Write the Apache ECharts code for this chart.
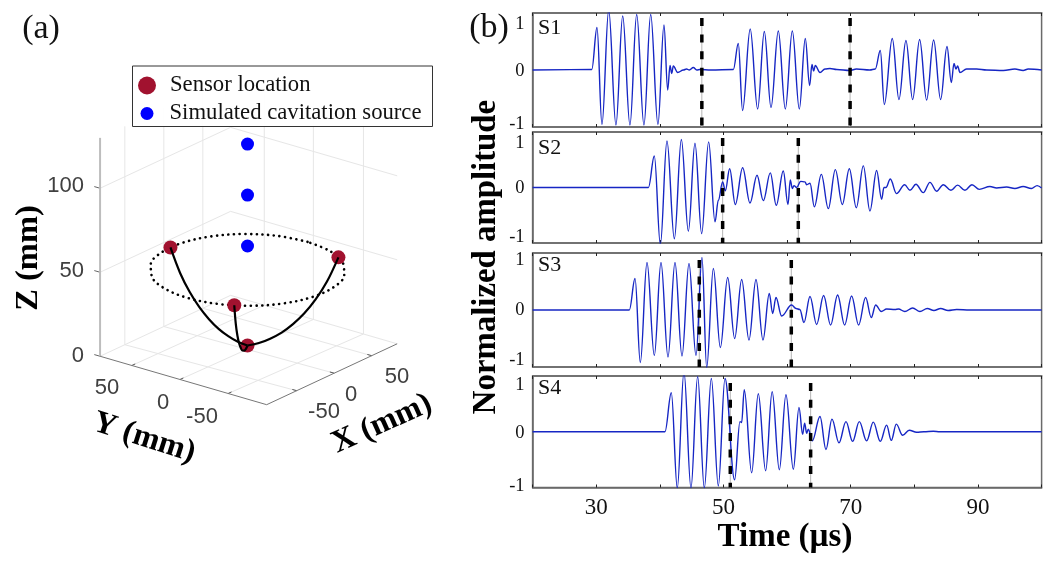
<!DOCTYPE html>
<html><head><meta charset="utf-8">
<style>html,body{margin:0;padding:0;background:#fff}#c{width:1050px;height:561px}</style>
<script src="https://cdn.jsdelivr.net/npm/echarts@6/dist/echarts.min.js"></script>
</head><body><div id="c"></div>
<script>
// ---------- panel (b): waveform turning points [time µs, normalized amplitude]
const S1 = [[20,0],[29.3,0.01],[30.12,0.85],[30.9,-1.09],[31.96,1.2],[33.1,-1.1],[34.16,1.08],[35.3,-1.1],[36.36,1.11],[37.5,-1.1],[38.56,1.11],[39.7,-1.09],[40.65,0.9],[41.23,-0.4],[41.6,0.09],[41.86,-0.07],[42.12,0.08],[42.8,-0.05],[43.7,0],[44.2,0.02],[44.63,0],[45.26,0.05],[45.8,0],[46.3,0.01],[48,0],[51.55,0.01],[52.33,0.53],[53,-0.81],[54.2,0.82],[55.37,-0.78],[56.42,0.77],[57.47,-0.75],[58.62,0.78],[59.72,-0.78],[60.82,0.78],[61.92,-0.78],[62.86,0.63],[63.54,-0.31],[63.91,0.11],[64.17,-0.02],[64.43,0.09],[65.17,-0.05],[65.95,0.02],[66.74,0.03],[67.8,0.01],[69.88,-0.01],[70.9,0.02],[73,0],[73.86,0.02],[74.65,0.39],[75.28,-0.69],[76.53,0.63],[77.58,-0.59],[78.68,0.59],[79.73,-0.59],[80.83,0.61],[81.93,-0.6],[83.03,0.6],[84.13,-0.59],[85.13,0.47],[85.81,-0.25],[86.23,0.13],[86.54,0.02],[86.8,0.08],[87.17,-0.05],[88.2,0.02],[89.8,0.02],[91.36,0],[94,-0.01],[95.8,0.02],[97.1,-0.01],[97.9,0.02],[100,0]];
const S2 = [[20,0],[38.2,0],[39.13,0.67],[40.08,-1.21],[41.12,0.99],[42.28,-1.09],[43.38,1.02],[44.48,-0.93],[45.52,0.94],[46.57,-0.98],[47.67,0.97],[48.67,-0.73],[49.19,-0.27],[49.87,0.12],[50.29,-0.07],[50.97,0.4],[51.86,-0.36],[53.01,0.42],[54.17,-0.33],[55.27,0.26],[56.26,-0.28],[57.36,0.31],[58.3,-0.38],[59.4,0.35],[60.14,-0.36],[60.5,0.16],[60.82,-0.02],[61.08,0.04],[61.5,0],[62.13,0.13],[62.81,0.12],[63.07,0.06],[63.6,0.09],[64.28,-0.41],[65.38,0.28],[66.48,-0.45],[67.58,0.38],[68.68,-0.36],[69.78,0.4],[70.88,-0.43],[71.98,0.46],[73.02,-0.5],[74.07,0.36],[74.86,-0.25],[75.22,0],[75.54,0],[76.22,0.18],[77.2,-0.13],[78.47,0.06],[79.31,-0.06],[80.25,0.07],[81.4,-0.11],[82.45,0.11],[83.5,-0.08],[84.55,0.06],[85.75,-0.06],[86.8,0.05],[87.95,-0.06],[89.05,0.06],[90.2,-0.04],[91.88,0.02],[92.93,-0.01],[94.5,0.01],[95.8,-0.02],[97.1,0.02],[98.4,-0.02],[99.3,0.04],[100,-0.01]];
const S3 = [[20,0],[35.2,0],[36.1,0.63],[36.93,-1.05],[37.98,0.95],[39.13,-0.91],[40.18,0.95],[41.28,-0.94],[42.38,0.95],[43.48,-0.92],[44.58,0.93],[45.68,-0.91],[46.62,1.05],[47.36,-1.15],[48.41,0.83],[49.51,-0.75],[50.66,0.65],[51.76,-0.57],[52.86,0.61],[54.01,-0.6],[55.11,0.61],[56.21,-0.6],[57.2,0.33],[57.73,-0.07],[58.25,0.25],[59.14,-0.12],[60.7,0.1],[61.4,0.03],[62,0.01],[62.65,-0.25],[63.6,0.27],[64.64,-0.29],[65.74,0.29],[66.84,-0.3],[67.94,0.3],[69.04,-0.3],[70.14,0.28],[71.24,-0.3],[72.34,0.25],[73.23,-0.15],[73.92,0.1],[74.8,-0.03],[75.64,0.02],[76.95,0.01],[77.5,0.02],[78.5,-0.03],[79.73,0.04],[80.88,-0.03],[82.03,0.03],[83.08,-0.01],[84.13,0.03],[85.3,-0.01],[86.65,0.01],[88.7,0],[100,0]];
const S4 = [[20,0],[40.8,0],[41.8,0.77],[42.74,-1.11],[43.79,1.18],[44.89,-1.11],[45.94,1.09],[46.99,-1.11],[48.09,1.05],[49.19,-1.07],[50.24,1.05],[51.75,-0.95],[52.59,0.2],[52.85,0.18],[53.27,0.83],[54.43,-0.81],[55.47,0.75],[56.63,-0.77],[57.65,0.79],[58.78,-0.75],[59.82,0.73],[60.98,-0.74],[61.87,0.48],[62.44,-0.05],[62.76,0.17],[63.07,-0.03],[63.33,0.05],[63.96,-0.18],[65.17,0.3],[66.11,-0.35],[67.05,0.25],[68.15,-0.22],[69.25,0.2],[70.3,-0.19],[71.35,0.2],[72.5,-0.18],[73.55,0.19],[74.65,-0.19],[75.64,0.13],[76.38,-0.17],[77.16,0.15],[78.16,-0.07],[79.2,0.03],[80.36,-0.01],[81.5,0],[82.98,0.01],[84,0],[100,0]];
const dashTimes = [[46.6,69.9],[49.87,61.76],[46.2,60.66],[51.07,63.7]];
const dashTops = [1.04,1.05,1.0,0.96];
const panelNames = ['S1','S2','S3','S4'];
const panelLimits = [1.14,1.18,1.14,1.1];
const panelTops = [13,132,253,376];
const panelHeights = [114,111,114,111.5];
const labelNudge = [[8,2],[6,2],[0,0],[8,2]];
const timeLabels = [30,50,70,90];
const ampLabels = [-1,0,1];

// ---------- panel (a): 3-D geometry in mm [X,Y,Z]
const sensors = [[0,80,46.5],[68.6,-41,46.5],[-69,-40,46.5],[0,0,1.5]];
const sources = [[0,0,121.4],[0,0,91],[0,0,60.7]];
const rim = [[80,0],[75.2,27.4],[61.3,51.4],[40,69.3],[13.9,78.8],[-13.9,78.8],[-40,69.3],[-61.3,51.4],[-75.2,27.4],[-80,0],[-75.2,-27.4],[-61.3,-51.4],[-40,-69.3],[-13.9,-78.8],[13.9,-78.8],[40,-69.3],[61.3,-51.4],[75.2,-27.4],[80,0]];
const rimHeight = 46.5;
const arcZ = [46.5,33,23.3,16,10.5,6.4,3.7,2,1.5];
const arcA = [[0,80],[0,70],[0,60],[0,50],[0,40],[0,30],[0,20],[0,10],[0,0]];
const arcB = [[68.6,-41],[60,-35.8],[51.4,-30.7],[42.9,-25.6],[34.3,-20.5],[25.7,-15.4],[17.1,-10.2],[8.6,-5.1],[0,0]];
const arcC = [[-69,-40],[-60.6,-35],[-52,-30],[-43.3,-25],[-34.6,-20],[-26,-15],[-17.3,-10],[-8.7,-5],[0,0]];
const zTicks = [0,50,100];
const yTicks = [50,0,-50];
const xTicks = [-50,0,50];
const xBack = [-57,-5,47];
const yBack = [48,-3,-55];
const box = {xMin:-90,xMax:84,yMin:-90,yMax:83,zTop:130};

// oblique view of the 3-D box onto a hidden 2-D axis pair
const view = p => [0.75*p[0]-0.963*p[1], 0.35*p[0]+0.28*p[1]+1.68*p[2]];

const SERIF = '"Liberation Serif"', SANS = '"Liberation Sans"';
const option = {animation:false,backgroundColor:'#fff',
  grid:[],xAxis:[],yAxis:[],series:[],
  legend:[
    {data:['Sensor location'],left:136,top:72,itemWidth:18,itemHeight:18,itemGap:0,padding:2,icon:'circle',
     selectedMode:false,textStyle:{fontFamily:SERIF,fontSize:22.7,color:'#111',padding:[0,0,0,9]},z:20},
    {data:['Simulated cavitation source'],left:138.5,top:100,itemWidth:13,itemHeight:13,padding:2,icon:'circle',
     selectedMode:false,textStyle:{fontFamily:SERIF,fontSize:22.7,color:'#111',padding:[0,0,3,11]},z:20}
  ],
  graphic:[]};

// panels of (b)
[S1,S2,S3,S4].forEach((d,i)=>{
  const last = i===3;
  option.grid.push({left:532.6,width:509,top:panelTops[i],height:panelHeights[i],show:true,borderColor:'#6a6a6a',borderWidth:1.5,backgroundColor:'transparent'});
  const tick = {show:true,inside:true,length:3,lineStyle:{color:'#222',width:1}};
  const axisLine = {show:true,onZero:false,lineStyle:{color:'#6a6a6a',width:1.5}};
  option.xAxis.push({type:'value',gridIndex:i,min:20,max:100,interval:10,position:'bottom',axisLine,axisTick:tick,splitLine:{show:false},
    axisLabel:last?{show:true,customValues:timeLabels,fontFamily:SERIF,fontSize:23,color:'#111',margin:9}:{show:false}});
  option.xAxis.push({type:'value',gridIndex:i,min:20,max:100,interval:10,position:'top',axisLine,axisTick:tick,splitLine:{show:false},axisLabel:{show:false}});
  const txt = {fontFamily:SERIF,fontSize:18.5,color:'#111'};
  option.yAxis.push({type:'value',gridIndex:i,min:-panelLimits[i],max:panelLimits[i],axisLine,axisTick:{show:false},splitLine:{show:false},
    axisLabel:{show:true,customValues:ampLabels,margin:8,showMinLabel:true,showMaxLabel:true,fontFamily:SERIF,fontSize:18.5,color:'#111',
      formatter:v=>(v===0?'{z|':'{e|')+v+'}',
      rich:{e:Object.assign({padding:[labelNudge[i][0],0,0,0]},txt),z:Object.assign({padding:[labelNudge[i][1],0,0,0]},txt)}}});
  const xi = i*2;
  dashTimes[i].forEach(t=>{
    const seg=[[t,dashTops[i]],[t,-panelLimits[i]]];
    option.series.push({type:'line',xAxisIndex:xi,yAxisIndex:i,data:seg,showSymbol:false,silent:true,z:2,lineStyle:{color:'#b5b5b5',width:1}});
    option.series.push({type:'line',xAxisIndex:xi,yAxisIndex:i,data:seg,showSymbol:false,silent:true,z:4,lineStyle:{color:'#000',width:3.5,type:[8,8.6]}});
  });
  option.series.push({type:'line',name:panelNames[i],xAxisIndex:xi,yAxisIndex:i,data:d,showSymbol:false,silent:true,z:3,clip:true,
    smooth:0.37,smoothMonotone:'x',lineStyle:{color:'#1626c4',width:1.4}});
  option.graphic.push({type:'text',x:538,y:[28,148,265,388][i],z:10,
    style:{text:panelNames[i],font:'22px '+SERIF,fill:'#111',textAlign:'left',textVerticalAlign:'middle'}});
});

// hidden axes carrying the projected 3-D box of (a)
const g3 = option.grid.length;
option.grid.push({left:0,top:0,width:1050,height:561,show:false});
const x3 = option.xAxis.length, y3 = option.yAxis.length;
option.xAxis.push({type:'value',gridIndex:g3,min:-247.5,max:802.5,show:false});
option.yAxis.push({type:'value',gridIndex:g3,min:-213,max:348,show:false});
const on3 = {xAxisIndex:x3,yAxisIndex:y3,silent:true};
const seg3 = (a,b,color,width,z)=>option.series.push(Object.assign({type:'line',data:[view(a),view(b)],showSymbol:false,z:z||1,lineStyle:{color,width}},on3));
const GRID='#e6e6e6';
xTicks.forEach((x,i)=>{
  seg3([x,box.yMin,0],[xBack[i],box.yMax,0],GRID,1);
  seg3([xBack[i],box.yMax,0],[xBack[i],box.yMax,box.zTop],GRID,1);
  seg3([x,box.yMin,0],[x,box.yMin+4.5,0],'#555',1,2);
});
yTicks.forEach((y,i)=>{
  seg3([box.xMin,y,0],[box.xMax,yBack[i],0],GRID,1);
  seg3([box.xMax,yBack[i],0],[box.xMax,yBack[i],box.zTop],GRID,1);
  seg3([box.xMin,y,0],[box.xMin+4.5,y,0],'#555',1,2);
});
zTicks.forEach(z=>{
  seg3([box.xMin,box.yMax,z],[box.xMax,box.yMax,z],GRID,1);
  seg3([box.xMax,box.yMax,z],[box.xMax,box.yMin,z],GRID,1);
  seg3([box.xMin,box.yMax,z],[box.xMin,box.yMax+6,z],'#666',1,2);
});
seg3([box.xMin,box.yMax,0],[box.xMin,box.yMax,box.zTop],'#bdbdbd',2,2);
seg3([box.xMin,box.yMax,0],[box.xMin,box.yMin,0],'#777',1,2);
seg3([box.xMin,box.yMin,0],[box.xMax,box.yMin,0],'#777',1,2);

option.series.push(Object.assign({type:'line',data:rim.map(p=>view([p[0],p[1],rimHeight])),showSymbol:false,smooth:0.35,z:5,
  lineStyle:{color:'#000',width:2.6,cap:'round',type:[0.1,5.6]}},on3));
option.series.push(Object.assign({type:'scatter',name:'Sensor location',data:sensors.map(view),symbolSize:14,z:6,itemStyle:{color:'#a1122f',opacity:1}},on3));
option.series.push(Object.assign({type:'scatter',name:'Simulated cavitation source',data:sources.map(view),symbolSize:13,z:6,itemStyle:{color:'#0000ff',opacity:1}},on3));
[arcA,arcB,arcC].forEach(a=>option.series.push(Object.assign({type:'line',data:a.map((p,i)=>view([p[0],p[1],arcZ[i]])),showSymbol:false,smooth:0.35,z:7,
  lineStyle:{color:'#000',width:2.2}},on3)));

// text
const T=(text,x,y,font,fill,align,rot)=>option.graphic.push({type:'text',x,y,rotation:rot||0,z:10,
  style:{text,font,fill,textAlign:align||'center',textVerticalAlign:'middle'}});
T('(a)',41,29,'34px '+SERIF,'#111');
T('(b)',489,28,'34px '+SERIF,'#111');
T('Normalized amplitude',487,257,'bold 32.8px '+SERIF,'#000','center',Math.PI/2);
T('Time (µs)',785,537,'bold 33px '+SERIF,'#000');
T('Z (mm)',29,258,'bold 32.5px '+SERIF,'#000','center',Math.PI/2);
T('Y (mm)',144,438,'bold 32px '+SERIF,'#000','center',-0.31);
T('X (mm)',382,424,'bold 32px '+SERIF,'#000','center',0.42);
const TICK='22px '+SANS, TC='#404040';
[[356],[271],[186]].forEach((p,i)=>T(String(zTicks[i]),84,p[0],TICK,TC,'right'));
[[107,388],[163,403],[202,417]].forEach((p,i)=>T(String(yTicks[i]),p[0],p[1],TICK,TC));
[[324,412],[351,395],[397,377]].forEach((p,i)=>T(String(xTicks[i]),p[0],p[1],TICK,TC));
// legend frame
option.graphic.push({type:'rect',z:8,shape:{x:132.5,y:66,width:300,height:60.5},style:{fill:'rgba(255,255,255,0.93)',stroke:'#333',lineWidth:1}});

const chart = echarts.init(document.getElementById('c'),null,{renderer:'canvas'});
chart.setOption(option);
</script></body></html>
